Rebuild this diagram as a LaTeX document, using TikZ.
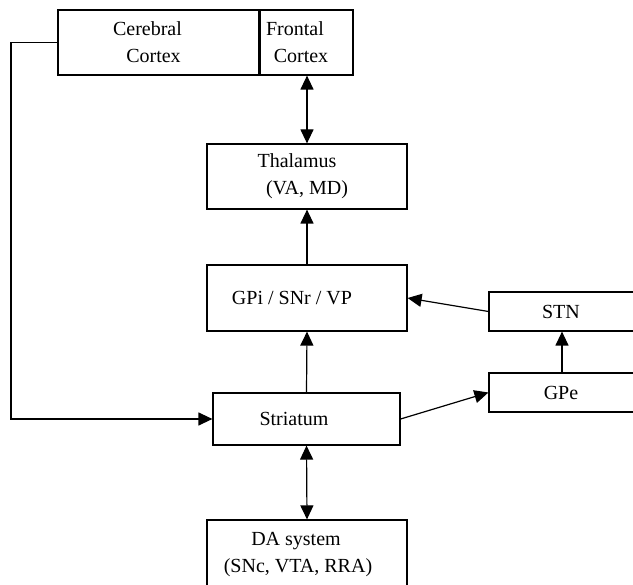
\documentclass[tikz,border=0pt]{standalone}
\usepackage{fontspec}
\setmainfont{Liberation Serif}
\usetikzlibrary{arrows.meta}
\begin{document}
\begin{tikzpicture}[x=1pt,y=-1pt,
  box/.style={draw, line width=1.2pt, rectangle, inner sep=0pt, align=center,
    font=\fontsize{20}{27}\selectfont},
  conn/.style={line width=1.2pt},
  arr/.style={conn, -{Triangle[length=14pt,width=13pt]}},
  dbl/.style={conn, {Triangle[length=14pt,width=13pt]}-{Triangle[length=14pt,width=13pt]}}
]
\useasboundingbox (0,0) rectangle (633,585);
\clip (0,0) rectangle (633,585);
\node[box, minimum width=202pt, minimum height=65pt] (cc) at (159,42.5)
  {Cerebral\hspace*{23pt}\\Cortex\hspace*{11pt}};
\node[box, minimum width=94pt, minimum height=65pt] (fc) at (306,42.5)
  {Frontal\hspace*{22pt}\\Cortex\hspace*{10pt}};
\node[box, minimum width=200pt, minimum height=65pt] (th) at (307,176.5)
  {Thalamus\hspace*{20pt}\\(VA, MD)};
\node[box, minimum width=200pt, minimum height=66pt] (gp) at (307,298)
  {GPi / SNr / VP\hspace*{30pt}};
\node[box, minimum width=151pt, minimum height=39pt] (stn) at (564.5,311.5)
  {STN\hspace*{7pt}};
\node[box, minimum width=151pt, minimum height=39pt] (gpe) at (564.5,392.5)
  {GPe\hspace*{7pt}};
\node[box, minimum width=187pt, minimum height=52pt] (str) at (306.5,419)
  {Striatum\hspace*{25pt}};
\node[box, minimum width=200pt, minimum height=70pt] (da) at (307,555)
  {DA system\hspace*{22pt}\\(SNc, VTA, RRA)\hspace*{18pt}};
\coordinate (c1) at (11,42.5);
\draw[dbl] (th.north) -- (th.north |- fc.south);
\draw[arr] (gp.north) -- (th.south);
\draw[arr] (str.north) -- (gp.south);
\draw[dbl] (str.south) -- (da.north);
\draw[arr] (cc.west) -- (c1) |- (str.west);
\draw[arr] (stn.west) -- (gp.east);
\draw[arr] ([xshift=-2.5pt]gpe.north) -- ([xshift=-2.5pt]stn.south);
\draw[arr] (str.east) -- (gpe.west);
\end{tikzpicture}
\end{document}
